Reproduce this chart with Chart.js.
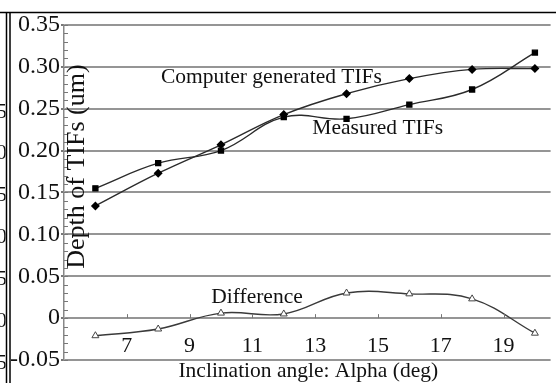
<!DOCTYPE html>
<html>
<head>
<meta charset="utf-8">
<script src="https://cdn.jsdelivr.net/npm/chart.js@4.4.1/dist/chart.umd.min.js"></script>
<style>
  html, body { margin: 0; padding: 0; background: #fff; }
  #wrap { width: 556px; height: 383px; }
</style>
</head>
<body>
<div id="wrap"><canvas id="tifChart" width="556" height="383"></canvas></div>
<script>
// values
const angles = [6, 8, 10, 12, 14, 16, 18, 20];
const computedTIFs = [0.134, 0.173, 0.207, 0.243, 0.268, 0.286, 0.297, 0.298];
const measuredTIFs = [0.155, 0.185, 0.200, 0.240, 0.238, 0.255, 0.273, 0.317];
const differenceTIFs = [-0.021, -0.013, 0.006, 0.005, 0.030, 0.029, 0.023, -0.018];
const xTickValues = [7, 9, 11, 13, 15, 17, 19];
const yTickValues = [-0.05, 0, 0.05, 0.10, 0.15, 0.20, 0.25, 0.30, 0.35];
const seriesNames = ['Computer generated TIFs', 'Measured TIFs', 'Difference'];

const serif = "'Liberation Serif', 'Times New Roman', serif";

function toPoints(ys) {
  return angles.map((a, i) => ({ x: a, y: ys[i] }));
}

// frame, minor ticks and in-plot labels
const decor = {
  id: 'decor',
  afterDraw(chart) {
    const { ctx, chartArea, scales } = chart;
    const xs = scales.x, ys = scales.y;
    ctx.save();

    // outer frame of the figure panel
    ctx.strokeStyle = '#000';
    ctx.lineWidth = 1.5;
    ctx.beginPath();
    ctx.moveTo(0, 12.5); ctx.lineTo(chart.width, 12.5);
    ctx.moveTo(6.5, 12); ctx.lineTo(6.5, chart.height);
    ctx.moveTo(10, 12); ctx.lineTo(10, chart.height);
    ctx.stroke();

    // clipped labels of the neighbouring panel
    ctx.save();
    ctx.beginPath();
    ctx.rect(0, 13, 5.5, chart.height);
    ctx.clip();
    ctx.fillStyle = '#111';
    ctx.font = '22px ' + serif;
    ctx.textAlign = 'right';
    ctx.textBaseline = 'middle';
    ['5', '0', '5', '0', '5', '0', '5'].forEach((t, i) => {
      ctx.fillText(t, 7, ys.getPixelForValue(0.25 - i * 0.05) + 3);
    });
    ctx.restore();

    // minor ticks on the value axis
    ctx.strokeStyle = '#777';
    ctx.lineWidth = 1;
    ctx.beginPath();
    for (let k = -5; k <= 35; k++) {
      const py = Math.round(ys.getPixelForValue(k / 100)) + 0.5;
      ctx.moveTo(chartArea.left, py);
      ctx.lineTo(chartArea.left + 4, py);
    }
    // upward ticks on the zero line
    const y0 = ys.getPixelForValue(0);
    xTickValues.forEach(v => {
      const px = Math.round(xs.getPixelForValue(v)) + 0.5;
      ctx.moveTo(px, y0 - 4);
      ctx.lineTo(px, y0);
    });
    ctx.stroke();

    // series labels
    ctx.fillStyle = '#111';
    ctx.font = '21.5px ' + serif;
    ctx.textAlign = 'left';
    ctx.textBaseline = 'middle';
    ctx.fillText(seriesNames[0], xs.getPixelForValue(8.09), ys.getPixelForValue(0.2876));
    ctx.fillText(seriesNames[1], xs.getPixelForValue(12.91), ys.getPixelForValue(0.2267));
    ctx.fillText(seriesNames[2], xs.getPixelForValue(9.69), ys.getPixelForValue(0.025));

    // axis title below the bottom grid line
    ctx.textAlign = 'center';
    ctx.fillText('Inclination angle: Alpha (deg)', (chartArea.left + chartArea.right) / 2 + 1, chartArea.bottom + 11);

    // value axis title sits inside the plot
    ctx.font = '26px ' + serif;
    ctx.translate(xs.getPixelForValue(5.41), ys.getPixelForValue(0.181));
    ctx.rotate(-Math.PI / 2);
    ctx.fillText('Depth of TIFs (um)', 0, 0);
    ctx.restore();
  }
};

const ctx = document.getElementById('tifChart').getContext('2d');
new Chart(ctx, {
  type: 'line',
  data: {
    datasets: [
      {
        label: seriesNames[0],
        data: toPoints(computedTIFs),
        borderColor: '#2b2b2b',
        borderWidth: 1.4,
        tension: 0.4,
        pointStyle: 'rectRot',
        pointRadius: 3.5,
        pointBackgroundColor: '#000',
        pointBorderColor: '#000',
      },
      {
        label: seriesNames[1],
        data: toPoints(measuredTIFs),
        borderColor: '#2b2b2b',
        borderWidth: 1.4,
        tension: 0.4,
        pointStyle: 'rect',
        pointRadius: 3.5,
        pointBackgroundColor: '#000',
        pointBorderColor: '#000',
      },
      {
        label: seriesNames[2],
        data: toPoints(differenceTIFs),
        borderColor: '#3a3a3a',
        borderWidth: 1.4,
        tension: 0.4,
        pointStyle: 'triangle',
        pointRadius: 4,
        pointBackgroundColor: '#fff',
        pointBorderColor: '#444',
        pointBorderWidth: 1,
      },
    ],
  },
  options: {
    responsive: false,
    animation: false,
    layout: { padding: { top: 25, bottom: 23, left: 0, right: 0 } },
    plugins: {
      legend: { display: false },
      tooltip: { enabled: false },
    },
    scales: {
      x: {
        type: 'linear',
        position: { y: 0 },
        min: 5,
        max: 20.5,
        afterBuildTicks: s => { s.ticks = xTickValues.map(v => ({ value: v })); },
        grid: { display: false, drawTicks: false },
        border: { display: false },
        ticks: { padding: 15, color: '#111', font: { family: serif, size: 22 } },
      },
      y: {
        min: -0.05,
        max: 0.35,
        afterBuildTicks: s => { s.ticks = yTickValues.map(v => ({ value: v })); },
        afterFit: s => { s.width = 64; },
        grid: { color: '#959595', lineWidth: 2, tickLength: 3, tickColor: '#777' },
        border: { color: '#888', width: 1.5 },
        ticks: {
          padding: 1,
          color: '#111',
          font: { family: serif, size: 24 },
          callback: v => (Math.abs(v) < 1e-9 ? '0' : v.toFixed(2)),
        },
      },
    },
  },
  plugins: [decor],
});
</script>
</body>
</html>
